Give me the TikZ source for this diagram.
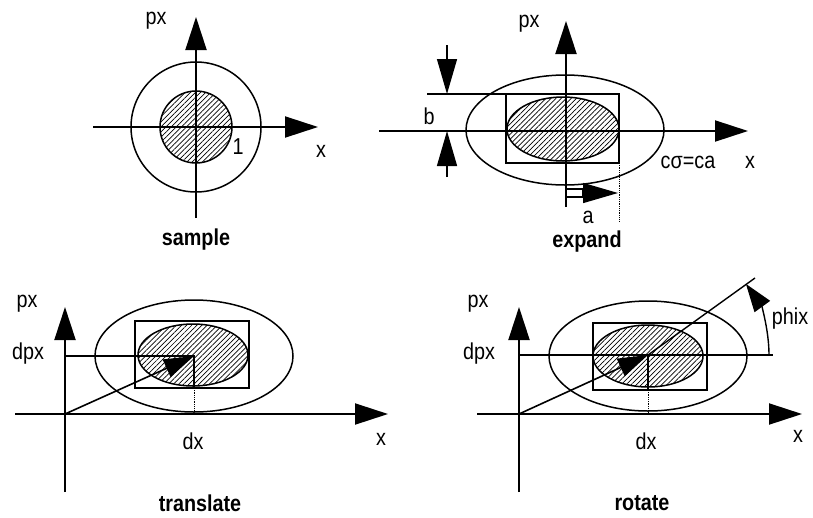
\documentclass[tikz,border=0pt]{standalone}
\usepackage{fontspec}
\setmainfont[FakeStretch=0.86]{Liberation Sans}
\usetikzlibrary{arrows.meta,patterns.meta}

\begin{document}
\begin{tikzpicture}[x=1pt,y=-1pt, every node/.style={font=\fontsize{23}{26}\selectfont},
    axis/.style={line width=2pt,-{Triangle[length=33pt,width=21pt]}},
    outline/.style={line width=1.5pt},
    hatch/.style={line width=1.5pt,pattern={Lines[angle=45,distance=3.6pt,line width=0.7pt]}},
    vec/.style={line width=1.6pt,-{Triangle[length=30pt,width=19pt]}},
    dimarrow/.style={line width=1.4pt,-{Triangle[length=35pt,width=20pt]}},
    guide/.style={line width=0.8pt,densely dotted},
    caption/.style={font=\fontsize{23}{26}\selectfont\bfseries}]
  \useasboundingbox (0,0) rectangle (813,517);

  % sample
  \coordinate (s-o) at (196,127);
  \draw[outline] (s-o) circle[radius=65];
  \draw[hatch] (s-o) circle[radius=36];
  \draw[axis] (93,127) -- (318,127);
  \draw[axis] (196,218) -- (196,17);
  \node at (156,21) (s-px) {px};
  \node at (321,151) (s-x) {x};
  \node at (238,147) (s-one) {1};
  \node[caption] at (196,240) (s-cap) {sample};

  % expand
  \coordinate (e-o) at (566,131);
  \draw[outline] (565,130) ellipse[x radius=99,y radius=55];
  \draw[hatch] (563,129) ellipse[x radius=56,y radius=32];
  \draw[outline] (506,94) rectangle (619,163);
  \draw[axis] (379,131) -- (748,131);
  \draw[axis] (566,207) -- (566,21);
  \draw[outline] (427,94) -- (506,94);
  \coordinate (b-top) at (447,94);
  \coordinate (b-bot) at (447,131);
  \draw[dimarrow] (447,45) -- (b-top);
  \draw[dimarrow] (447,177) -- (b-bot);
  \draw[line width=1.2pt] (566,189) rectangle (583,197);
  \coordinate (a-end) at (618,193);
  \draw[dimarrow] (583,193) -- (a-end);
  \draw[guide] (619,163) -- (619,222);
  \node at (429,116) (e-b) {b};
  \node at (588,217) (e-a) {a};
  \node at (529,24) (e-px) {px};
  \node at (750,162) (e-x) {x};
  \node at (688,162) (e-sig) {cσ=ca};
  \node[caption] at (587,242) (e-cap) {expand};

  % translate
  \coordinate (t-o) at (65,414);
  \coordinate (t-c) at (194,356);
  \draw[outline] (194,356) ellipse[x radius=99,y radius=56];
  \draw[hatch] (193,355) ellipse[x radius=55,y radius=31];
  \draw[outline] (135,321) rectangle (249,388);
  \draw[axis] (15,414) -- (388,414);
  \draw[axis] (65,492) -- (65,307);
  \draw[line width=1.2pt] (65,356) -- (t-c) -- (194,388);
  \draw[guide] (194,388) -- (194,414);
  \draw[vec] (t-o) -- (t-c);
  \node at (27,304) (t-px) {px};
  \node at (28,354) (t-dpx) {dpx};
  \node at (193,441) (t-dx) {dx};
  \node at (381,439) (t-x) {x};
  \node[caption] at (200,503) (t-cap) {translate};

  % rotate
  \coordinate (r-o) at (519,414);
  \coordinate (r-c) at (648,355);
  \coordinate (r-end) at (755,278);
  \draw[outline] (648,356) ellipse[x radius=99,y radius=55];
  \draw[hatch] (648,356) ellipse[x radius=55,y radius=31];
  \draw[outline] (593,323) rectangle (707,390);
  \draw[axis] (477,414) -- (802,414);
  \draw[axis] (519,492) -- (519,307);
  \draw[line width=1.2pt] (519,355) -- (773,355);
  \draw[line width=1.2pt] (r-c) -- (648,390);
  \draw[guide] (648,390) -- (648,414);
  \draw[line width=1.4pt] (r-c) -- (r-end);
  \draw[vec] (r-o) -- (r-c);
  \draw[line width=1.4pt,-{Triangle[length=28pt,width=19pt]}] (769,355) arc[start angle=0,end angle=-36,radius=121];
  \node at (478,304) (r-px) {px};
  \node at (479,354) (r-dpx) {dpx};
  \node at (646,441) (r-dx) {dx};
  \node at (798,436) (r-x) {x};
  \node at (790,319) (r-phix) {phix};
  \node[caption] at (642,503) (r-cap) {rotate};
\end{tikzpicture}
\end{document}
